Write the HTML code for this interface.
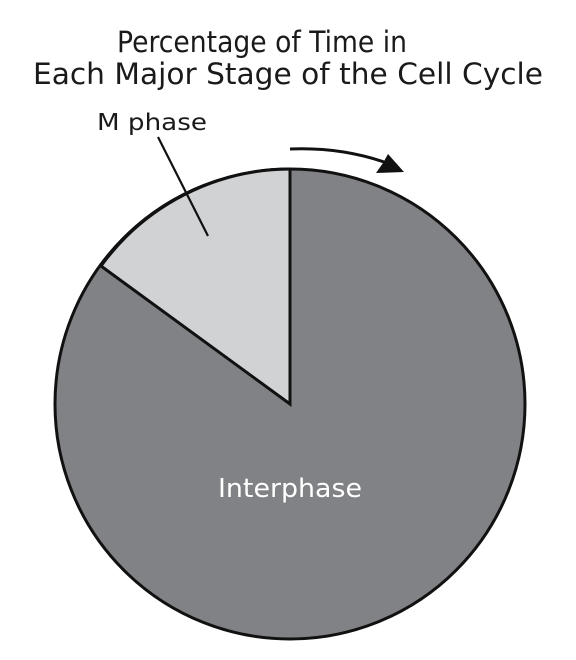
<!DOCTYPE html>
<html><head><meta charset="utf-8"><style>
html,body{margin:0;padding:0;background:#fff;}
svg{display:block;}
text{font-family:"DejaVu Sans","Liberation Sans",sans-serif;}
</style></head><body>
<svg width="576" height="660" viewBox="0 0 576 660" xmlns="http://www.w3.org/2000/svg">
<text x="262" y="52" font-size="29" text-anchor="middle" fill="#1a1a1a" textLength="290" lengthAdjust="spacingAndGlyphs">Percentage of Time in</text>
<text x="288" y="84" font-size="29" text-anchor="middle" fill="#1a1a1a" textLength="510" lengthAdjust="spacingAndGlyphs">Each Major Stage of the Cell Cycle</text>
<circle cx="290" cy="404" r="235" fill="#818285" stroke="#111" stroke-width="3"/>
<path d="M290,404 L290,169 A235,235 0 0 0 101,266 Z" fill="#d1d2d4" stroke="#111" stroke-width="3" stroke-linejoin="miter"/>
<line x1="158" y1="137" x2="208" y2="236" stroke="#111" stroke-width="2.2"/>
<text x="97" y="130" font-size="23" fill="#1a1a1a" textLength="110" lengthAdjust="spacingAndGlyphs">M phase</text>
<text x="290" y="497" font-size="26" fill="#fff" text-anchor="middle" textLength="144" lengthAdjust="spacingAndGlyphs">Interphase</text>
<path d="M290,149 Q340,147 384,162" fill="none" stroke="#111" stroke-width="3"/>
<path d="M404,172 L376,173 L383,163 L388,154 Z" fill="#111"/>
</svg>
</body></html>
